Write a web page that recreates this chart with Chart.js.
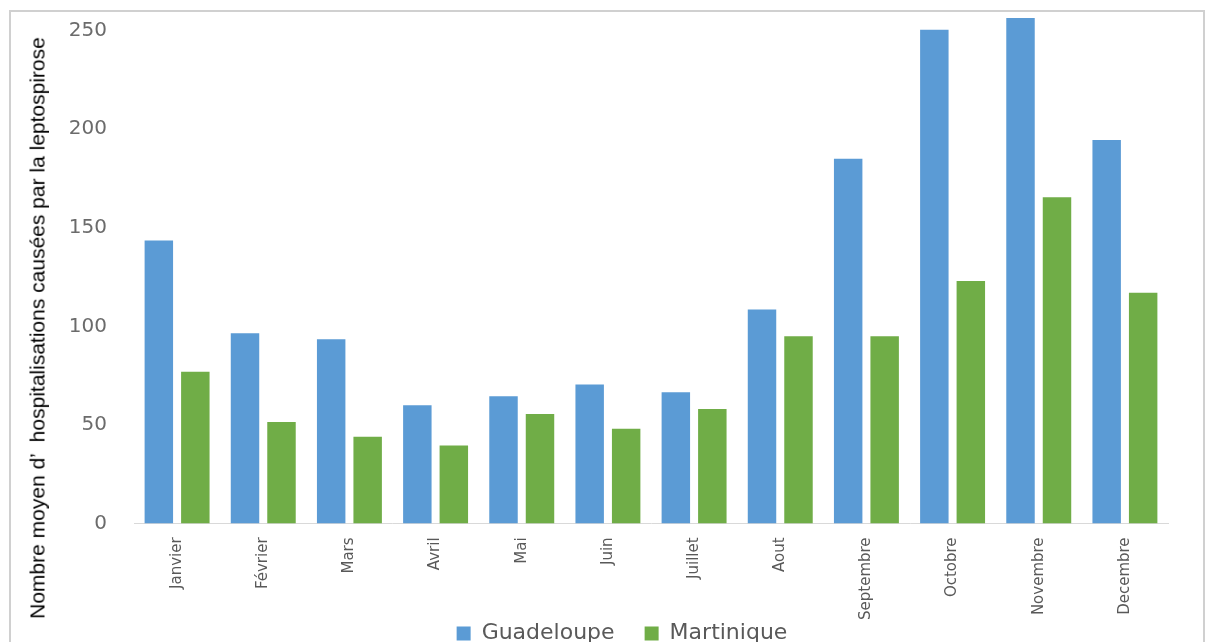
<!DOCTYPE html>
<html>
<head>
<meta charset="utf-8">
<script src="https://cdn.jsdelivr.net/npm/chart.js@4"></script>
<style>
  html, body { margin: 0; padding: 0; background: #fff; overflow: hidden; }
  #frame { position: absolute; left: 9px; top: 10px; width: 1196px; height: 720px; border: 2px solid #d0d0d0; box-sizing: border-box; }
  #wrap { position: absolute; left: 0; top: 0; width: 1205px; height: 696px; }
  #ytitle { position: absolute; left: 37px; top: 328px; transform: translate(-50%, -50%) rotate(-90deg);
            white-space: pre; font-family: 'Liberation Sans', Arial, sans-serif; font-size: 21px; color: #000; line-height: 1; }
</style>
</head>
<body>
<div id="frame"></div>
<div id="wrap"><canvas id="c" width="1205" height="696"></canvas></div>
<div id="ytitle"></div>
<script>
const months = ["Janvier","Février","Mars","Avril","Mai","Juin","Juillet","Aout","Septembre","Octobre","Novembre","Decembre"];
const guadeloupe = [143.5, 96.5, 93.5, 60, 64.5, 70.5, 66.5, 108.5, 185, 250.5, 256.5, 194.5];
const martinique = [77, 51.5, 44, 39.5, 55.5, 48, 58, 95, 95, 123, 165.5, 117];
const yTicks = [0, 50, 100, 150, 200, 250];
const yTitle = "Nombre moyen d’  hospitalisations causées par la leptospirose";

document.getElementById('ytitle').textContent = yTitle;

const legendShift = {
  id: 'legendShift',
  afterLayout(chart) {
    const lg = chart.legend;
    if (!lg) return;
    lg.left += 24; lg.right += 24;
    lg.top = chart.chartArea.bottom + 99 - lg.options.labels.padding;
  }
};

new Chart(document.getElementById('c'), {
  type: 'bar',
  data: {
    labels: months,
    datasets: [
      { label: 'Guadeloupe', data: guadeloupe, backgroundColor: '#5B9BD5', categoryPercentage: 0.847, barPercentage: 0.78 },
      { label: 'Martinique', data: martinique, backgroundColor: '#70AD47', categoryPercentage: 0.847, barPercentage: 0.78 }
    ]
  },
  plugins: [legendShift],
  options: {
    responsive: false,
    animation: false,
    layout: { autoPadding: false, padding: { left: 28, right: 37, top: 11, bottom: 0 } },
    plugins: {
      tooltip: { enabled: false },
      legend: {
        position: 'bottom',
        labels: {
          boxWidth: 14, boxHeight: 14, padding: 30,
          color: '#595959',
          font: { family: 'DejaVu Sans', size: 22 }
        }
      }
    },
    scales: {
      x: {
        grid: { display: false, drawTicks: false },
        border: { display: true, color: '#d9d9d9', width: 1 },
        ticks: {
          minRotation: 90, maxRotation: 90, padding: 14,
          color: '#595959',
          font: { family: 'DejaVu Sans', size: 15 }
        }
      },
      y: {
        min: 0, max: 260,
        grid: { display: false, drawTicks: true, tickLength: 27 },
        border: { display: false },
        afterBuildTicks: (s) => { s.ticks = yTicks.map(v => ({ value: v })); },
        afterFit: (s) => { s.width = 134 - 28; },
        ticks: {
          padding: 0,
          color: '#6b6b6b',
          font: { family: 'DejaVu Sans', size: 20, lineHeight: 1 }
        }
      }
    }
  }
});
</script>
</body>
</html>
